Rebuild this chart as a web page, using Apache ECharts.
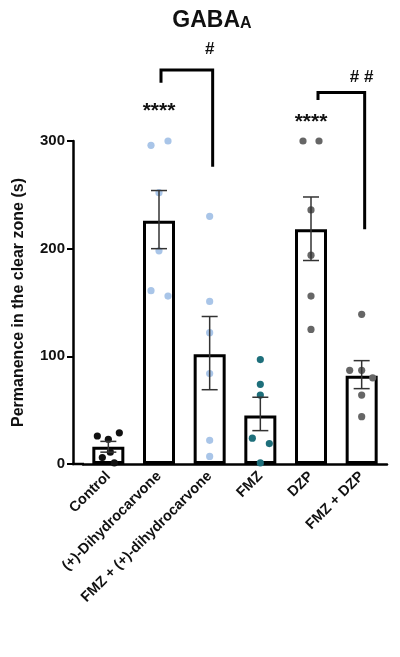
<!DOCTYPE html>
<html><head><meta charset="utf-8">
<script src="https://cdn.jsdelivr.net/npm/echarts@6/dist/echarts.min.js"></script>
<style>html,body{margin:0;padding:0;background:#fff}#c{width:400px;height:657px}</style>
</head><body><div id="c"></div>
<script>
var categories = ['Control','(+)-Dihydrocarvone','FMZ + (+)-dihydrocarvone','FMZ','DZP','FMZ + DZP'];
var means = [16, 226, 102, 45, 218, 82];
var semLow = [11, 200, 69, 31, 189, 70];
var semHigh = [21, 254, 137, 62, 248, 96];
var points = [
  [26,23,29,6,11,1],
  [296,300,252,198,161,156],
  [230,151,122,84,22,7],
  [97,74,64,24,19,1],
  [300,300,236,194,156,125],
  [139,87,87,80,64,44]
];
var jitter = [
  [-11,0,11,-6,2,6],
  [-8,9,0,0,-8,9],
  [0,0,0,0,0,0],
  [0,0,0,-8,9,0],
  [-8,8,0,0,0,0],
  [0,-12,0,11,0,0]
];
var pointColors = ['#111111','#a9c5e8','#a9c5e8','#1e6f7b','#666666','#666666'];
var yTicks = [0,100,200,300];

var chart = echarts.init(document.getElementById('c'));
var scatterData = [];
points.forEach(function(arr,i){arr.forEach(function(v,j){scatterData.push([i,v,jitter[i][j]]);});});
chart.setOption({
  animation:false,
  title:{text:'{a|GABA}{b|A}',left:207,textAlign:'center',top:4,
    textStyle:{rich:{a:{fontSize:23,fontWeight:'bold',fontFamily:'Liberation Sans',color:'#111'},
      b:{fontSize:16,fontWeight:'bold',fontFamily:'Liberation Sans',color:'#111',padding:[6,0,0,0]}}}},
  grid:{left:83,right:13,top:141,bottom:193},
  xAxis:{type:'category',data:categories,
    axisLine:{lineStyle:{color:'#000',width:2.5}},
    axisTick:{alignWithLabel:true,length:5,lineStyle:{color:'#000',width:2}},
    axisLabel:{rotate:45,interval:0,color:'#111',fontSize:14.5,fontWeight:'bold',fontFamily:'Liberation Sans',margin:10}},
  yAxis:{type:'value',min:0,max:300,interval:100,offset:10,
    name:'Permanence in the clear zone (s)',nameLocation:'middle',nameGap:46,
    nameTextStyle:{fontSize:16,fontWeight:'bold',color:'#111',fontFamily:'Liberation Sans'},
    axisLine:{show:true,lineStyle:{color:'#000',width:2.5}},
    axisTick:{show:true,length:6,lineStyle:{color:'#000',width:2}},
    splitLine:{show:false},
    axisLabel:{color:'#111',fontSize:15,fontWeight:'bold',fontFamily:'Liberation Sans',
      formatter:function(v){return yTicks.indexOf(v)>=0?String(v):'';}}},
  series:[
    {type:'bar',data:means,barWidth:32,itemStyle:{color:'#fff',borderColor:'#000',borderWidth:3}},
    {type:'custom',z:5,data:categories.map(function(c,i){return [i,semLow[i],semHigh[i]];}),
      renderItem:function(params,api){
        var lo=api.coord([api.value(0),api.value(1)]);var hi=api.coord([api.value(0),api.value(2)]);
        var s={stroke:'#333',lineWidth:1.5};
        return {type:'group',children:[
          {type:'line',shape:{x1:lo[0],y1:lo[1],x2:hi[0],y2:hi[1]},style:s},
          {type:'line',shape:{x1:lo[0]-8,y1:lo[1],x2:lo[0]+8,y2:lo[1]},style:s},
          {type:'line',shape:{x1:hi[0]-8,y1:hi[1],x2:hi[0]+8,y2:hi[1]},style:s}]};
      }},
    {type:'custom',z:4,data:scatterData,
      renderItem:function(params,api){
        var p=api.coord([api.value(0),api.value(1)]);
        return {type:'circle',shape:{cx:p[0]+api.value(2),cy:p[1],r:3.6},
          style:{fill:pointColors[api.value(0)]}};
      }}
  ]
});

function px(c,v){return chart.convertToPixel({xAxisIndex:0,yAxisIndex:0},[c,v]);}
var br1 = {x0:1,x1:2,top:366,leftEnd:354,rightEnd:276};
var br2 = {x0:4,x1:5,top:345,leftEnd:338,rightEnd:218};
function bracket(b,dx){
  var a=px(b.x0,b.top),c=px(b.x1,b.top),l=px(b.x0,b.leftEnd),r=px(b.x1,b.rightEnd);
  return {type:'polyline',shape:{points:[[a[0]+dx,l[1]],[a[0]+dx,a[1]],[c[0]+3,c[1]],[c[0]+3,r[1]]]},
    style:{stroke:'#000',lineWidth:3,fill:null}};
}
function label(t,c,v,fs){var p=px(c,v);return {type:'text',x:p[0],y:p[1],
  style:{text:t,fontSize:fs,fontWeight:'bold',fill:'#111',align:'center',verticalAlign:'middle',fontFamily:'Liberation Sans'}};}
var z0 = px(0,0);
chart.setOption({graphic:[
  {type:'line',shape:{x1:72,y1:z0[1],x2:84,y2:z0[1]},style:{stroke:'#000',lineWidth:2.5}},
  bracket(br1,2), bracket(br2,7),
  label('#',1.55,385,17), label('# #',4.5,359,17),
  label('****',1,328,21), label('****',4,317,21)
]});
</script></body></html>
